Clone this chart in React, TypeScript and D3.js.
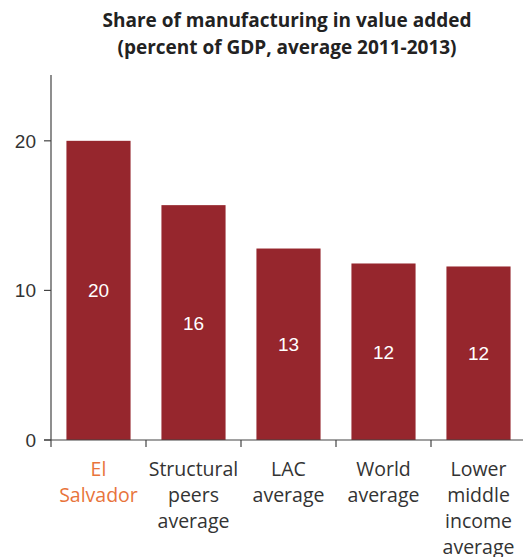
import React from "react";
import * as d3 from "d3";

const categories = ["El Salvador", "Structural peers average", "LAC average", "World average", "Lower middle income average"];
const categoryLines = [["El", "Salvador"], ["Structural", "peers", "average"], ["LAC", "average"], ["World", "average"], ["Lower", "middle", "income", "average"]];
const values = [20.0, 15.7, 12.8, 11.8, 11.6];
const valueLabels = ["20", "16", "13", "12", "12"];
const yTicks = [0, 10, 20];
const titleLines = ["Share of manufacturing in value added", "(percent of GDP, average 2011-2013)"];

export default function App() {
  const W = 523, H = 557;
  const x0 = 51, x1 = 526, yBottom = 440, yTop = 75;
  const y = d3.scaleLinear().domain([0, 24.4]).range([yBottom, yTop]);
  const x = d3.scaleBand<string>().domain(categories).range([x0, x1]).paddingInner(0).paddingOuter(0);
  const step = x.step();
  const barW = step * 0.675;
  const textFont = "'Open Sans', 'Noto Sans', sans-serif";
  const numFont = "'Liberation Sans', Arial, sans-serif";
  return (
    <svg width={W} height={H} style={{ position: "absolute", left: 0, top: 0, background: "#fff" }}>
      {titleLines.map((t, i) => (
        <text key={i} x={287} y={27 + i * 27} textAnchor="middle" fontFamily={textFont} fontWeight={700} fontSize={19} fill="#222">{t}</text>
      ))}
      {categories.map((c, i) => {
        const bx = (x(c) as number) + (step - barW) / 2;
        return (
          <g key={c}>
            <rect x={bx} y={y(values[i])} width={barW} height={yBottom - y(values[i])} fill="#96262d" />
            <text x={bx + barW / 2} y={(y(values[i]) + yBottom) / 2 + 7} textAnchor="middle" fontFamily={numFont} fontSize={19} fill="#fff">{valueLabels[i]}</text>
            {categoryLines[i].map((ln, j) => (
              <text key={j} x={(x(c) as number) + step / 2} y={476 + j * 26} textAnchor="middle" fontFamily={textFont} fontSize={19.5} fill={i === 0 ? "#e8743b" : "#333"}>{ln}</text>
            ))}
          </g>
        );
      })}
      <line x1={x0} x2={x0} y1={yTop} y2={yBottom} stroke="#444" strokeWidth={1.2} />
      <line x1={x0 - 7} x2={W} y1={yBottom} y2={yBottom} stroke="#444" strokeWidth={1.2} />
      {yTicks.map(t => (
        <g key={t}>
          <line x1={x0 - 7} x2={x0} y1={y(t)} y2={y(t)} stroke="#444" strokeWidth={1.2} />
          <text x={36} y={y(t) + 7} textAnchor="end" fontFamily={numFont} fontSize={19} fill="#333">{t}</text>
        </g>
      ))}
      {categories.map(c => (
        <line key={c} x1={x(c) as number} x2={x(c) as number} y1={yBottom} y2={yBottom + 7} stroke="#444" strokeWidth={1.2} />
      ))}
    </svg>
  );
}
